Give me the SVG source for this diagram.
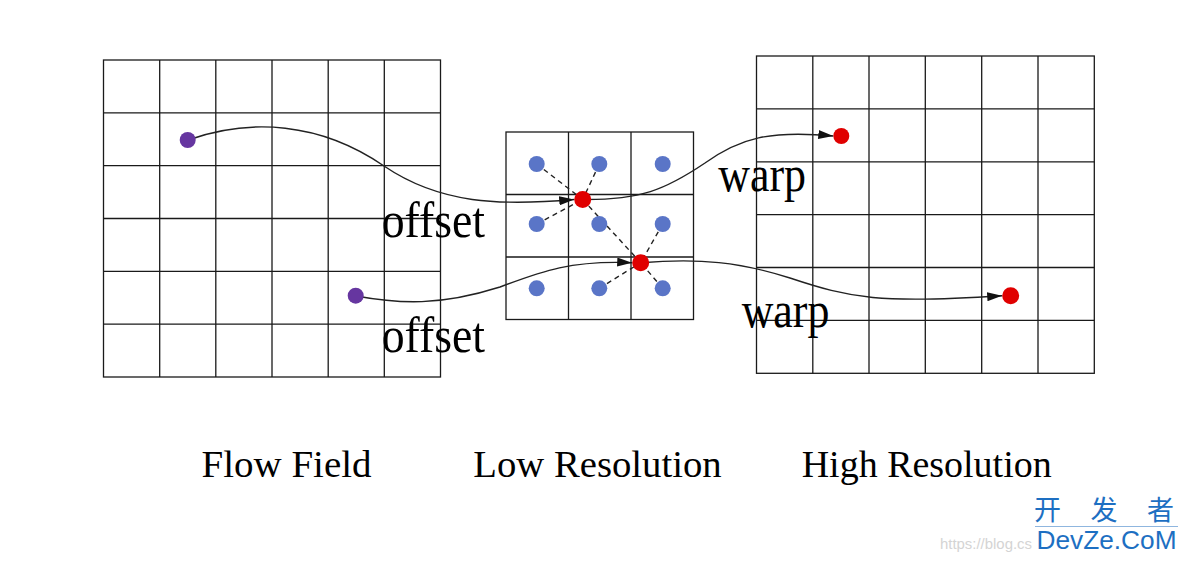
<svg xmlns="http://www.w3.org/2000/svg" width="1190" height="562" viewBox="0 0 1190 562">
  <defs>
    <marker id="arrow" markerUnits="userSpaceOnUse" markerWidth="15" markerHeight="9" viewBox="0 0 15 9" refX="15" refY="4.5" orient="auto">
      <path d="M0,0 L15,4.5 L0,9 z" fill="#111"/>
    </marker>
    <style>
      .grid { fill: none; stroke: #1a1a1a; stroke-width: 1.3; }
      .curve { fill: none; stroke: #222; stroke-width: 1.4; }
      .dash { fill: none; stroke: #222; stroke-width: 1.4; stroke-dasharray: 5 4; }
      .purple { fill: #6636a0; }
      .blue { fill: #5a75c7; }
      .red { fill: #e00000; }
      .lbl { font-family: "Liberation Serif", "Times New Roman", serif; fill: #000; }
      .cap { font-size: 38.5px; }
      .big { font-size: 51px; }
      .wm { fill: #1d6fc2; }
    </style>
  </defs>
  <rect width="1190" height="562" fill="#fff"/>

  <g id="grid-flow-field">
    <rect class="grid" x="103.5" y="60" width="337" height="317"/>
    <path class="grid" d="M159.7,60V377 M215.8,60V377 M272,60V377 M328.2,60V377 M384.3,60V377 M103.5,112.8H440.5 M103.5,165.7H440.5 M103.5,218.5H440.5 M103.5,271.4H440.5 M103.5,324.2H440.5"/>
  </g>

  <g id="grid-low-resolution">
    <rect class="grid" x="506" y="132" width="187.5" height="187.5"/>
    <path class="grid" d="M568.5,132V319.5 M631,132V319.5 M506,194.5H693.5 M506,257H693.5"/>
  </g>

  <g id="grid-high-resolution">
    <rect class="grid" x="756.5" y="56" width="337.8" height="317.3"/>
    <path class="grid" d="M812.8,56V373.3 M869,56V373.3 M925.3,56V373.3 M981.7,56V373.3 M1038,56V373.3 M756.5,108.9H1094.3 M756.5,161.8H1094.3 M756.5,214.7H1094.3 M756.5,267.5H1094.3 M756.5,320.4H1094.3"/>
  </g>

  <g id="connectors">
    <g id="sampling-lines">
      <line class="dash" x1="536.7" y1="164" x2="582.7" y2="199.5"/>
      <line class="dash" x1="599.3" y1="164" x2="582.7" y2="199.5"/>
      <line class="dash" x1="536.7" y1="224" x2="582.7" y2="199.5"/>
      <line class="dash" x1="582.7" y1="199.5" x2="640.7" y2="262.7"/>
      <line class="dash" x1="662.7" y1="224" x2="640.7" y2="262.7"/>
      <line class="dash" x1="599.3" y1="288.3" x2="640.7" y2="262.7"/>
      <line class="dash" x1="662.7" y1="288.3" x2="640.7" y2="262.7"/>
    </g>
    <path id="offset-1" class="curve" marker-end="url(#arrow)" d="M188,140 C250,118 320,122 384,166 C440,204 500,206 574.2,199.5"/>
    <path id="warp-1" class="curve" marker-end="url(#arrow)" d="M583,199.5 C640,200 665,190 705,163 C740,138 770,130 833.3,136"/>
    <path id="offset-2" class="curve" marker-end="url(#arrow)" d="M356,296 C400,304 440,306 500,287 C540,272 570,260 632.2,262.7"/>
    <path id="warp-2" class="curve" marker-end="url(#arrow)" d="M641,262.7 C700,258 740,262 790,278 C850,298 880,304 1002.2,295.7"/>
  </g>

  <g id="blue-samples">
    <circle class="blue" cx="536.7" cy="164" r="8"/>
    <circle class="blue" cx="599.3" cy="164" r="8"/>
    <circle class="blue" cx="662.7" cy="164" r="8"/>
    <circle class="blue" cx="536.7" cy="224" r="8"/>
    <circle class="blue" cx="599.3" cy="224" r="8"/>
    <circle class="blue" cx="662.7" cy="224" r="8"/>
    <circle class="blue" cx="536.7" cy="288.3" r="8"/>
    <circle class="blue" cx="599.3" cy="288.3" r="8"/>
    <circle class="blue" cx="662.7" cy="288.3" r="8"/>
  </g>

  <g id="flow-points">
    <circle class="purple" cx="187.7" cy="140" r="8"/>
    <circle class="purple" cx="355.7" cy="295.7" r="8"/>
  </g>

  <g id="low-points">
    <circle class="red" cx="582.7" cy="199.5" r="8.5"/>
    <circle class="red" cx="640.7" cy="262.7" r="8.5"/>
  </g>

  <g id="high-points">
    <circle class="red" cx="841.3" cy="136" r="8"/>
    <circle class="red" cx="1010.7" cy="295.7" r="8.5"/>
  </g>

  <g id="edge-labels">
    <text class="lbl big" x="381.7" y="236.5" textLength="103.3" lengthAdjust="spacingAndGlyphs">offset</text>
    <text class="lbl big" x="381.7" y="351.5" textLength="103.3" lengthAdjust="spacingAndGlyphs">offset</text>
    <text class="lbl big" x="718.3" y="190.5" textLength="87.7" lengthAdjust="spacingAndGlyphs">warp</text>
    <text class="lbl big" x="741.7" y="326.5" textLength="87.7" lengthAdjust="spacingAndGlyphs">warp</text>
  </g>

  <g id="captions">
    <text class="lbl cap" x="201.5" y="476.7" textLength="170" lengthAdjust="spacingAndGlyphs">Flow Field</text>
    <text class="lbl cap" x="473.3" y="476.7" textLength="248.4" lengthAdjust="spacingAndGlyphs">Low Resolution</text>
    <text class="lbl cap" x="801.7" y="476.7" textLength="250" lengthAdjust="spacingAndGlyphs">High Resolution</text>
  </g>

  <g id="watermark">
    <text x="940" y="548.5" font-family="Liberation Sans, Arial, sans-serif" font-size="14.5" fill="#d4d4d4" textLength="92" lengthAdjust="spacingAndGlyphs">https://blog.cs</text>
    <line x1="1035" y1="526.5" x2="1178" y2="526.5" stroke="#8fb6df" stroke-width="1"/>
    <text class="wm" y="520" font-family="Noto Sans CJK SC, sans-serif" font-size="27"><tspan x="1034">开</tspan><tspan x="1090.5">发</tspan><tspan x="1147">者</tspan></text>
    <text class="wm" x="1036.5" y="548.5" font-family="Liberation Sans, Arial, sans-serif" font-size="26" textLength="140" lengthAdjust="spacingAndGlyphs">DevZe.CoM</text>
  </g>
</svg>
